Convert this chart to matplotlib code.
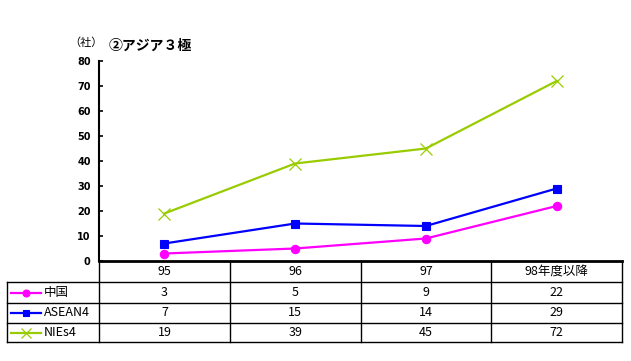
import matplotlib
matplotlib.use("Agg")
import matplotlib.pyplot as plt
import matplotlib.transforms as mtransforms
from matplotlib.lines import Line2D

plt.rcParams['font.family'] = ['Noto Sans CJK JP', 'DejaVu Sans']

categories = ["95", "96", "97", "98年度以降"]
series_names = ["中国", "ASEAN4", "NIEs4"]
china = [3, 5, 9, 22]
asean4 = [7, 15, 14, 29]
nies4 = [19, 39, 45, 72]
yticks = [0, 10, 20, 30, 40, 50, 60, 70, 80]

colors = ["#FF00FF", "#0000FF", "#99CC00"]
markers = ["o", "s", "x"]
msizes = [6, 6, 8]
values = [china, asean4, nies4]

W, H = 631, 361
fig = plt.figure(figsize=(W / 100, H / 100), dpi=100)
fig.patch.set_facecolor("white")
ax = fig.add_axes([99 / W, (H - 261) / H, (622 - 99) / W, 200 / H])

x = list(range(len(categories)))
for name, vals, c, m, ms in zip(series_names, values, colors, markers, msizes):
    ax.plot(x, vals, color=c, marker=m, markersize=ms, linewidth=1.6,
            markeredgewidth=0.9 if m == "x" else 0.8, clip_on=False, zorder=3)

ax.set_xlim(-0.5, len(categories) - 0.5)
ax.set_ylim(0, 80)
ax.set_yticks(yticks)
ax.set_yticklabels([str(v) for v in yticks], fontsize=7, fontweight="bold",
                   family="DejaVu Sans")
ax.tick_params(axis="y", direction="in", length=3, width=1.2, pad=6)
ax.set_xticks([])
for s in ["top", "right"]:
    ax.spines[s].set_visible(False)
ax.spines["left"].set_linewidth(1.5)
ax.spines["bottom"].set_linewidth(2.0)
ax.set_facecolor("white")

# table below the axes
trans = mtransforms.blended_transform_factory(ax.transData, ax.transAxes)
px_per_unit = (622 - 99) / len(categories)
left_edge = -0.5 - (99 - 7) / px_per_unit
right_edge = len(categories) - 0.5
row_y = [0, -21 / 200, -42 / 200, -62 / 200, -81 / 200]

def hline(x0, x1, y, lw=1.0):
    ax.add_line(Line2D([x0, x1], [y, y], color="black", lw=lw,
                       transform=trans, clip_on=False))

def vline(xx, y0, y1, lw=1.0):
    ax.add_line(Line2D([xx, xx], [y0, y1], color="black", lw=lw,
                       transform=trans, clip_on=False))

for yy in row_y[1:]:
    hline(left_edge, right_edge, yy)
vline(left_edge, row_y[1], row_y[-1])
for k in range(len(categories) + 1):
    vline(k - 0.5, row_y[0], row_y[-1])

for i, cat in enumerate(categories):
    ax.text(i, (row_y[0] + row_y[1]) / 2, cat, transform=trans, ha="center",
            va="center", fontsize=9)

for r, (name, vals, c, m, ms) in enumerate(zip(series_names, values, colors, markers, msizes)):
    yc = (row_y[r + 1] + row_y[r + 2]) / 2
    for i, v in enumerate(vals):
        ax.text(i, yc, str(v), transform=trans, ha="center", va="center",
                fontsize=9)
    lx0 = left_edge + 4 / px_per_unit
    lx1 = left_edge + 34 / px_per_unit
    ax.add_line(Line2D([lx0, lx1], [yc, yc], color=c, lw=1.6,
                       transform=trans, clip_on=False))
    ax.add_line(Line2D([(lx0 + lx1) / 2], [yc], color=c, marker=m,
                       markersize=ms - 1, markeredgewidth=0.9 if m == "x" else 0.8,
                       transform=trans, clip_on=False, linestyle="none"))
    ax.text(left_edge + 37 / px_per_unit, yc, name, transform=trans,
            ha="left", va="center", fontsize=9)

fig.text(69 / W, 1 - 43 / H, "（社）", fontsize=8, ha="left", va="center")
fig.text(109 / W, 1 - 46 / H, "②アジア３極", fontsize=10, fontweight="bold",
         ha="left", va="center")

fig.savefig("out.png", dpi=100, facecolor="white")
